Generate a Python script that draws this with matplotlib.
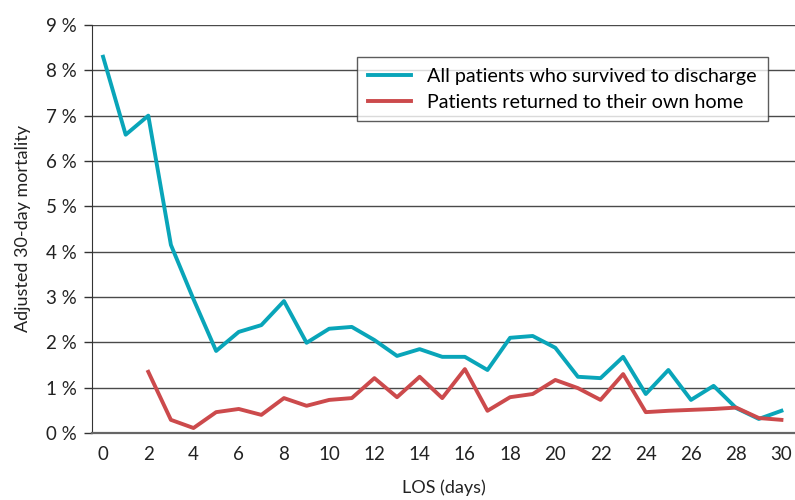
import matplotlib
matplotlib.use("Agg")
import matplotlib.pyplot as plt

plt.rcParams['font.family'] = ['Lato', 'DejaVu Sans']

days_all = list(range(0, 31))
mort_all = [8.30, 6.58, 7.00, 4.15, 2.95, 1.81, 2.23, 2.38, 2.91, 1.99,
            2.30, 2.34, 2.05, 1.70, 1.85, 1.68, 1.68, 1.39, 2.10, 2.14,
            1.88, 1.24, 1.21, 1.68, 0.86, 1.39, 0.73, 1.04, 0.55, 0.31,
            0.49]

days_home = list(range(2, 31))
mort_home = [1.35, 0.29, 0.11, 0.46, 0.53, 0.40, 0.77, 0.60, 0.73, 0.77,
             1.21, 0.79, 1.24, 0.77, 1.41, 0.49, 0.79, 0.86, 1.17, 0.99,
             0.73, 1.30, 0.46, 0.49, 0.51, 0.53, 0.56, 0.33, 0.29]

y_ticks = list(range(0, 10))
x_ticks = list(range(0, 31, 2))

fig = plt.figure(figsize=(7.95, 5.0), dpi=100)
ax = fig.add_axes([0.1157, 0.134, 0.8843, 0.816])

ax.plot(days_all, mort_all, color='#09a5b9', lw=2.8,
        label='All patients who survived to discharge', zorder=3)
ax.plot(days_home, mort_home, color='#cc4a4c', lw=2.8,
        label='Patients returned to their own home', zorder=3)

ax.set_xlim(-0.49, 30.6)
ax.set_ylim(0, 9)
ax.set_yticks(y_ticks)
ax.set_yticklabels([f'{v} %' for v in y_ticks])
ax.set_xticks(x_ticks)

ax.yaxis.grid(True, color='#4a4a4a', lw=1.0)
ax.set_axisbelow(True)
for s in ['top', 'right']:
    ax.spines[s].set_visible(False)
ax.spines['left'].set_color('#333333')
ax.spines['bottom'].set_color('#666666')
ax.spines['bottom'].set_linewidth(1.6)
ax.tick_params(axis='y', length=6, width=1, color='#333333', labelsize=13.5, pad=5)
ax.tick_params(axis='x', length=0, labelsize=13.5, pad=9)
for lbl in ax.get_yticklabels() + ax.get_xticklabels():
    lbl.set_color('#222222')

ax.set_xlabel('LOS (days)', fontsize=13, color='#222222', labelpad=12)
ax.set_ylabel('Adjusted 30-day mortality', fontsize=13, color='#222222', labelpad=11)

leg = ax.legend(loc='upper left', bbox_to_anchor=(0.377, 0.922), fontsize=14.2,
                frameon=True, fancybox=False, edgecolor='#333333',
                handlelength=2.2, borderpad=0.55, labelspacing=0.45,
                borderaxespad=0)
leg.get_frame().set_linewidth(1.0)

fig.savefig('out.png', dpi=100)
